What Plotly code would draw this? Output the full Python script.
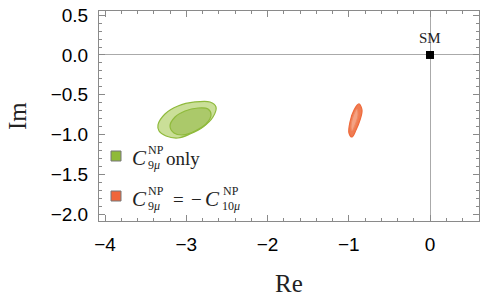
import plotly.graph_objects as go

# ---- data ----
green_outer_re = [-3.348, -3.262, -3.102, -2.892, -2.708, -2.634, -2.671, -2.794, -2.954, -3.102, -3.249, -3.335]
green_outer_im = [-0.880, -0.742, -0.642, -0.591, -0.591, -0.654, -0.780, -0.906, -0.994, -1.044, -1.019, -0.956]
green_inner_re = [-3.200, -3.138, -3.015, -2.855, -2.732, -2.695, -2.757, -2.892, -3.040, -3.151]
green_inner_im = [-0.893, -0.780, -0.704, -0.667, -0.679, -0.755, -0.868, -0.956, -1.006, -0.981]
orange_outer_re = [-0.874, -0.837, -0.862, -0.911, -0.960, -0.997, -0.985, -0.935]
orange_outer_im = [-0.616, -0.692, -0.818, -0.943, -1.031, -0.981, -0.843, -0.692]
orange_inner_re = [-0.898, -0.886, -0.923, -0.960, -0.972, -0.935]
orange_inner_im = [-0.679, -0.755, -0.881, -0.956, -0.893, -0.742]
sm_re = [0.0]
sm_im = [0.0]

x_ticks = [-4, -3, -2, -1, 0]
x_ticktext = ["\u22124", "\u22123", "\u22122", "\u22121", "0"]
y_ticks = [0.5, 0.0, -0.5, -1.0, -1.5, -2.0]
y_ticktext = ["0.5", "0.0", "\u22120.5", "\u22121.0", "\u22121.5", "\u22122.0"]

W, H = 480, 303
L, R, T, B = 99, 479, 11, 221


def px(x):
    return (x - L) / (R - L)


def py(y):
    return (B - y) / (B - T)


def closed(a):
    return list(a) + [a[0]]


fig = go.Figure()

fig.add_trace(go.Scatter(x=closed(green_outer_re), y=closed(green_outer_im), mode="lines",
                         line=dict(shape="spline", color="#8fba3c", width=1.2),
                         fill="toself", fillcolor="#cadf98", hoverinfo="skip"))
fig.add_trace(go.Scatter(x=closed(green_inner_re), y=closed(green_inner_im), mode="lines",
                         line=dict(shape="spline", color="#8fba3c", width=1.2),
                         fill="toself", fillcolor="#abc96a", hoverinfo="skip"))
fig.add_trace(go.Scatter(x=closed(orange_outer_re), y=closed(orange_outer_im), mode="lines",
                         line=dict(shape="spline", color="#ee6a3c", width=1.2),
                         fill="toself", fillcolor="#f07c52", hoverinfo="skip"))
fig.add_trace(go.Scatter(x=closed(orange_inner_re), y=closed(orange_inner_im), mode="lines",
                         line=dict(shape="spline", color="#f08a62", width=1),
                         fill="toself", fillcolor="#f4a283", hoverinfo="skip"))
fig.add_trace(go.Scatter(x=sm_re, y=sm_im, mode="markers",
                         marker=dict(symbol="square", size=8, color="black"), hoverinfo="skip"))

serif = "Liberation Serif"
sans = "Liberation Sans"

ann = []
# SM label
ann.append(dict(x=0, y=py(38), xref="x", yref="paper", text="SM", showarrow=False,
                font=dict(family=serif, size=15, color="#222"), xanchor="center", yanchor="middle"))

# legend rows
def legend_row(ycen, parts):
    for (x0, dy, txt, size, italic) in parts:
        t = "<i>%s</i>" % txt if italic else txt
        ann.append(dict(x=px(x0), y=py(ycen + dy), xref="paper", yref="paper", text=t,
                        showarrow=False, xanchor="left", yanchor="middle",
                        font=dict(family=serif, size=size, color="#222")))

legend_row(158, [(130, 0, "C", 21, True), (146, -8, "NP", 12, False), (146, 7, "9<i>\u03bc</i>", 12, False),
                 (164, 0, "only", 19, False)])
legend_row(199, [(130, 0, "C", 21, True), (146, -8, "NP", 12, False), (146, 7, "9<i>\u03bc</i>", 12, False),
                 (171, 0, "=", 19, False), (189, 0, "\u2212", 19, False), (203, 0, "C", 21, True),
                 (221, -8, "NP", 12, False), (220, 7, "10<i>\u03bc</i>", 12, False)])

# axis titles
ann.append(dict(x=0.5, y=py(283), xref="paper", yref="paper", text="Re", showarrow=False,
                font=dict(family=serif, size=25, color="#222"), xanchor="center", yanchor="middle"))
ann.append(dict(x=px(17), y=0.5, xref="paper", yref="paper", text="Im", showarrow=False, textangle=-90,
                font=dict(family=serif, size=25, color="#222"), xanchor="center", yanchor="middle"))

shapes = [
    dict(type="rect", xref="paper", yref="paper", x0=px(111), x1=px(121), y0=py(151), y1=py(161),
         fillcolor="#8fba38", line=dict(color="#777", width=1)),
    dict(type="rect", xref="paper", yref="paper", x0=px(111), x1=px(121), y0=py(191), y1=py(201),
         fillcolor="#f0663a", line=dict(color="#777", width=1)),
]

axis_common = dict(showgrid=False, zeroline=True, zerolinecolor="#aaaaaa", zerolinewidth=1,
                   showline=True, linecolor="#8a8a8a", linewidth=1, mirror="ticks",
                   ticks="inside", ticklen=6, tickcolor="#8a8a8a", tickwidth=1, automargin=False,
                   tickfont=dict(family=sans, size=19, color="black"))

fig.update_layout(
    width=W, height=H, margin=dict(l=L, r=W - R, t=T, b=H - B),
    paper_bgcolor="white", plot_bgcolor="white", showlegend=False,
    annotations=ann, shapes=shapes,
    xaxis=dict(range=[-4.074, 0.603], tickvals=x_ticks, ticktext=x_ticktext,
               minor=dict(dtick=0.2, tick0=0, ticks="inside", ticklen=3, tickcolor="#8a8a8a"),
               ticklabelstandoff=6, **axis_common),
    yaxis=dict(range=[-2.088, 0.553], tickvals=y_ticks, ticktext=y_ticktext,
               minor=dict(dtick=0.1, tick0=0, ticks="inside", ticklen=3, tickcolor="#8a8a8a"),
               ticklabelstandoff=6, **axis_common),
)

fig.write_html("out.html", config={"displayModeBar": False},
               post_script="document.body.style.margin='0';")
